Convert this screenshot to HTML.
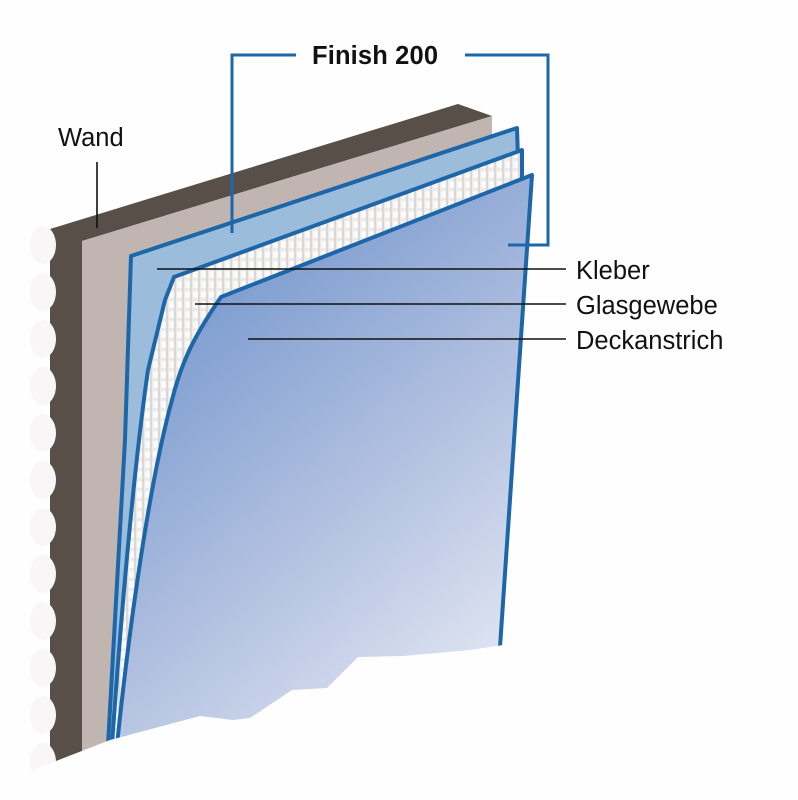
<!DOCTYPE html>
<html><head><style>
html,body{margin:0;padding:0;background:#fefefe;}
svg{display:block;}
text{font-family:"Liberation Sans",Arial,sans-serif;fill:#111;}
</style></head><body>
<svg width="798" height="800" viewBox="0 0 798 800" xmlns="http://www.w3.org/2000/svg">
<defs>
<linearGradient id="dg" x1="200" y1="280" x2="520" y2="660" gradientUnits="userSpaceOnUse">
<stop offset="0" stop-color="#7a9bcf"/><stop offset="0.5" stop-color="#aebedf"/><stop offset="1" stop-color="#e1e6f2"/>
</linearGradient>
<pattern id="gw" width="8" height="10" patternUnits="userSpaceOnUse">
<rect width="8" height="10" fill="#ecebea"/><rect x="1" y="1" width="5" height="7" rx="2" fill="#fafafa"/><rect x="6.5" y="0" width="1" height="10" fill="#c9c6c4"/>
</pattern>
</defs>
<rect width="798" height="800" fill="#fefefe"/>
<polygon points="50,229 458,104 492,116 82,241 82,760 50,770" fill="#574f48"/>
<polygon points="82,241 492,116 492,760 82,760" fill="#c0b5b0"/>
<g fill="#f8f6f6">
<ellipse cx="43" cy="245" rx="13" ry="19"/><ellipse cx="43" cy="292" rx="13" ry="19"/><ellipse cx="43" cy="339" rx="13" ry="19"/><ellipse cx="43" cy="386" rx="13" ry="19"/><ellipse cx="43" cy="433" rx="13" ry="19"/><ellipse cx="43" cy="480" rx="13" ry="19"/><ellipse cx="43" cy="527" rx="13" ry="19"/><ellipse cx="43" cy="574" rx="13" ry="19"/><ellipse cx="43" cy="621" rx="13" ry="19"/><ellipse cx="43" cy="668" rx="13" ry="19"/><ellipse cx="43" cy="715" rx="13" ry="19"/><ellipse cx="43" cy="762" rx="13" ry="19"/>
</g>
<path d="M108,745 L125,440 L131,256 L517,128 L519,190 L490,740 Z" fill="#9bbddb" stroke="#1d67a9" stroke-width="4" stroke-linejoin="round"/>
<path d="M112,745 C122,600 135,460 148,370 L165,300 L174,277 L522,150 L522,195 L490,740 Z" fill="url(#gw)" stroke="#1d67a9" stroke-width="4" stroke-linejoin="round"/>
<path d="M117,745 C130,620 150,480 172,400 C182,360 195,335 221,297 L532,175 L500,647 L490,780 L117,780 Z" fill="url(#dg)" stroke="#1d67a9" stroke-width="4" stroke-linejoin="round"/>
<polygon points="0,800 0,790 38,768 110,740 200,716 233,720 250,718 292,690 327,688 358,657 403,656 470,650 503,645 798,645 798,800" fill="#fefefe"/>
<g stroke="#111" stroke-width="1.6">
<line x1="97" y1="162" x2="97" y2="228"/>
<line x1="157" y1="269" x2="566" y2="269"/>
<line x1="195" y1="304" x2="566" y2="304"/>
<line x1="248" y1="339" x2="566" y2="339"/>
</g>
<g stroke="#1d67a9" stroke-width="3" fill="none">
<polyline points="296,55 232,55 232,233"/>
<polyline points="465,55 548,55 548,245 508,245"/>
</g>
<text x="58" y="146" font-size="25.5">Wand</text>
<text x="312" y="64" font-size="25.5" font-weight="bold" textLength="126">Finish 200</text>
<text x="576" y="279" font-size="25.5">Kleber</text>
<text x="576" y="314" font-size="25.5">Glasgewebe</text>
<text x="576" y="349" font-size="25.5">Deckanstrich</text>
</svg>
</body></html>
